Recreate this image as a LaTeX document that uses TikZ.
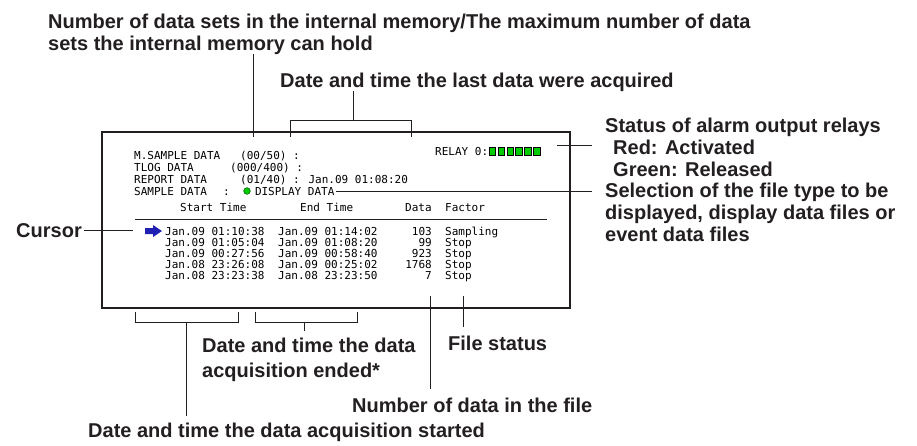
\documentclass[tikz,border=0pt]{standalone}
\usepackage{fontspec}
\setmainfont{Liberation Sans}
\newfontfamily\lcdfont{DejaVu Sans Mono}
\usepackage{tikz}
\usetikzlibrary{positioning, calc}
\definecolor{inkgray}{HTML}{231F20}
\definecolor{relaygreen}{HTML}{00CC00}
\definecolor{cursorblue}{HTML}{1F1FB4}

\begin{document}
\begin{tikzpicture}[x=1pt, y=-1pt,
    callout/.style={font=\fontsize{20}{22}\selectfont\bfseries, text=inkgray, align=left, inner sep=0pt, anchor=base west},
    lcd/.style={font=\fontsize{11}{11}\lcdfont, inner sep=0pt, anchor=base west},
    lead/.style={draw=inkgray, line width=1pt},
    screen/.style={draw=inkgray, line width=1.2pt}]

    \useasboundingbox (0,0) rectangle (917,445);

    \node [callout] (memlbl) at (48,50) {Number of data sets in the internal memory/The maximum number of data\\sets the internal memory can hold};
    \node [callout] (lastlbl) at (280,87) {Date and time the last data were acquired};
    \node [callout] (statuslbl) at (605,132) {Status of alarm output relays};
    \node [callout] (redlbl) at (613,154) {Red: Activated};
    \node [callout] (greenlbl) at (613,176) {Green: Released};
    \node [callout] (sellbl) at (605,241) {Selection of the file type to be\\displayed, display data files or\\event data files};
    \node [callout, anchor=base east] (cursorlbl) at (82,237) {Cursor};
    \node [callout, font=\fontsize{20}{25}\selectfont\bfseries] (endlbl) at (202,377) {Date and time the data\\acquisition ended*};
    \node [callout] (filelbl) at (448,350) {File status};
    \node [callout] (numlbl) at (352,412) {Number of data in the file};
    \node [callout] (startlbl) at (88,437) {Date and time the data acquisition started};

    \draw [screen] (102,132) rectangle (570,308);

    \node [lcd] (msample) at (134,159) {M.SAMPLE DATA};
    \node [lcd] (msamplecnt) at (240,159) {(00/50) :};
    \node [lcd] (tlog) at (134,171) {TLOG DATA};
    \node [lcd] (tlogcnt) at (230,171) {(000/400) :};
    \node [lcd] (report) at (134,183) {REPORT DATA};
    \node [lcd] (reportcnt) at (240,183) {(01/40) : Jan.09 01:08:20};
    \node [lcd] (sample) at (134,195) {SAMPLE DATA};
    \node [lcd] (samplecol) at (223,195) {:};
    \node [lcd, outer sep=2pt] (dispdata) at (253,195) {DISPLAY DATA};
    \node [lcd] (relay) at (435,155) {RELAY 0:};
    \filldraw [fill=relaygreen, draw=green!40!black, line width=0.6pt] (247,191) circle (3.3);
    \foreach \k in {0,...,5}
        \filldraw [fill=relaygreen, draw=black, line width=0.6pt] ({489+8.9*\k},147.5) rectangle +(6.6,7.5);

    \node [lcd] (starthd) at (180,211) {Start Time};
    \node [lcd] (endhd) at (300,211) {End Time};
    \node [lcd] (datahd) at (405,211) {Data};
    \node [lcd] (factorhd) at (445,211) {Factor};
    \draw [inkgray, line width=0.9pt] (135,219) -- (547,219);

    \foreach \st/\en/\n/\fa [count=\i from 0] in {Jan.09 01:10:38/Jan.09 01:14:02/103/Sampling,
        Jan.09 01:05:04/Jan.09 01:08:20/99/Stop,
        Jan.09 00:27:56/Jan.09 00:58:40/923/Stop,
        Jan.08 23:26:08/Jan.09 00:25:02/1768/Stop,
        Jan.08 23:23:38/Jan.08 23:23:50/7/Stop} {
        \node [lcd] (st\i) at (165,{235+11*\i}) {\st};
        \node [lcd] (en\i) at (278,{235+11*\i}) {\en};
        \node [lcd, anchor=base east] (n\i) at (432,{235+11*\i}) {\n};
        \node [lcd] (fa\i) at (445,{235+11*\i}) {\fa};
    }
    \fill [cursorblue] (145,228) -- (153,228) -- (153,225) -- (162,231) -- (153,237) -- (153,234) -- (145,234) -- cycle;

    \coordinate (memtip) at (253,137);
    \coordinate (lastmid) at (353,120);
    \coordinate (relaytip) at (557,145);
    \coordinate (cursortip) at (133,230);
    \coordinate (startmid) at (186,322);
    \coordinate (endmid) at (304,322);
    \coordinate (datatip) at (430,296);
    \coordinate (factortip) at (463,296);

    \path [lead] (memlbl.south -| memtip) -- (memtip);
    \path [lead] (lastlbl.south -| lastmid) -- (lastmid);
    \path [lead] (290,137) -- (290,120) -- (411,120) -- (411,137);
    \path [lead, shorten >=13pt] (relaytip) -- (relaytip -| statuslbl.west);
    \path [lead, shorten >=13pt] (dispdata.east) -- (dispdata.east -| sellbl.west);
    \path [lead, shorten <=2pt] (cursorlbl.east) -- (cursorlbl.east -| cursortip);
    \path [lead] (135,312) -- (135,322) -- (238,322) -- (238,312);
    \path [lead] (255,312) -- (255,322) -- (357,322) -- (357,312);
    \path [lead, shorten >=6pt] (startmid) -- (startmid |- startlbl.north);
    \path [lead, shorten >=6pt] (endmid) -- (endmid |- endlbl.north);
    \path [lead, shorten >=8pt] (datatip) -- (datatip |- numlbl.north);
    \path [lead, shorten >=8pt] (factortip) -- (factortip |- filelbl.north);

\end{tikzpicture}
\end{document}
